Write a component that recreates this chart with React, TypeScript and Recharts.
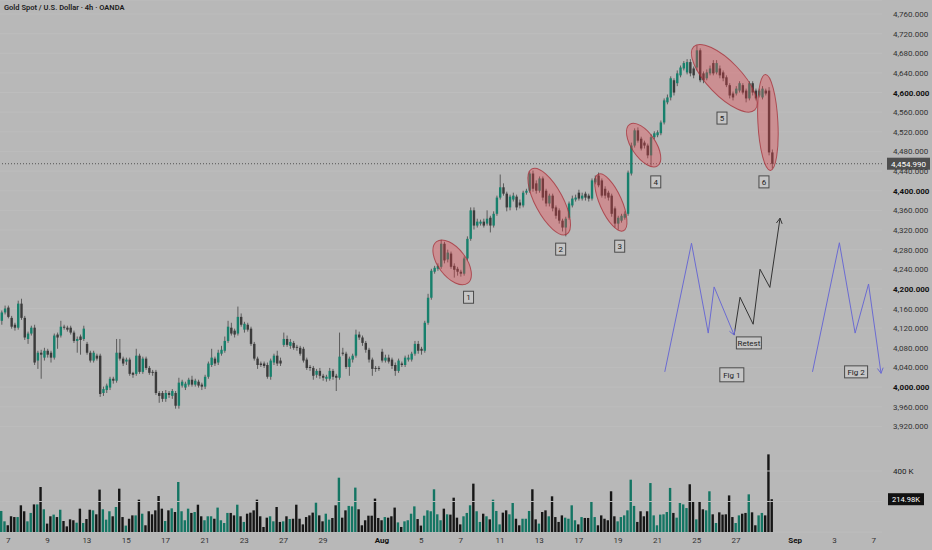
import React from 'react';
import { ComposedChart, Bar, XAxis, YAxis, ReferenceLine, ReferenceDot, Cell, CartesianGrid } from 'recharts';

// OHLC per 4h candle: [open, high, low, close]
const candles: number[][] = [
  [4135,4156,4127,4152],[4152,4166,4148,4160],[4162,4166,4140,4143],[4141,4145,4119,4123],[4127,4131,4115,4121],
  [4121,4176,4117,4170],[4170,4180,4137,4141],[4141,4145,4096,4101],[4098,4113,4088,4109],[4109,4125,4105,4121],
  [4121,4127,4045,4050],[4054,4074,4037,4070],[4070,4076,4017,4066],[4060,4080,4054,4074],[4074,4078,4060,4066],
  [4070,4074,4050,4060],[4060,4109,4056,4105],[4107,4111,4078,4101],[4105,4135,4101,4123],[4123,4127,4117,4121],
  [4121,4125,4113,4117],[4121,4125,4107,4111],[4111,4115,4090,4094],[4094,4103,4070,4098],[4103,4107,4066,4096],
  [4098,4125,4094,4119],[4088,4092,4066,4070],[4070,4074,4050,4054],[4054,4074,4050,4070],[4064,4068,4054,4058],
  [4064,4068,3980,3986],[3988,4001,3982,3996],[3994,4007,3988,4003],[3999,4021,3994,4017],[4017,4021,4007,4013],
  [4013,4098,4009,4070],[4070,4098,4054,4058],[4058,4062,4043,4048],[4052,4060,4045,4056],[4056,4060,4023,4027],
  [4029,4031,4019,4025],[4027,4078,4023,4064],[4064,4068,4027,4031],[4031,4062,4027,4058],[4058,4062,4035,4039],
  [4039,4043,4025,4029],[4031,4035,4023,4029],[4031,4035,3984,3988],[3988,3992,3968,3982],[3988,3992,3970,3976],
  [3976,3994,3970,3988],[3988,3992,3978,3984],[3982,3996,3976,3992],[3988,3992,3956,3962],[3962,4019,3956,4009],
  [4003,4015,3999,4011],[3999,4011,3994,4007],[4005,4019,4001,4015],[4015,4023,4001,4005],[4005,4017,4001,4013],
  [4011,4015,3999,4003],[4005,4009,3994,4001],[4001,4025,3996,4021],[4021,4052,4017,4048],[4045,4078,4041,4060],
  [4058,4062,4043,4048],[4050,4076,4045,4070],[4068,4084,4064,4076],[4074,4103,4070,4094],[4094,4135,4090,4123],
  [4121,4131,4105,4109],[4115,4119,4101,4107],[4109,4164,4105,4143],[4143,4150,4123,4127],[4117,4133,4111,4129],
  [4127,4131,4113,4117],[4119,4123,4084,4088],[4088,4092,4054,4058],[4058,4062,4037,4045],[4048,4052,4041,4045],
  [4048,4052,4039,4043],[4045,4050,4017,4021],[4021,4058,4015,4054],[4050,4068,4045,4064],[4064,4074,4043,4048],
  [4054,4060,4043,4048],[4086,4111,4082,4098],[4098,4105,4082,4086],[4084,4098,4078,4092],[4090,4094,4076,4080],
  [4082,4086,4074,4080],[4080,4084,4064,4068],[4078,4082,4050,4054],[4056,4060,4035,4039],[4041,4045,4033,4039],
  [4039,4043,4015,4023],[4025,4037,4019,4033],[4033,4039,4017,4023],[4023,4027,4013,4019],[4017,4025,4011,4021],
  [4017,4039,4013,4033],[4033,4037,4015,4021],[4023,4027,3992,4019],[4019,4111,4015,4062],[4070,4080,4064,4068],
  [4068,4072,4037,4041],[4041,4062,4023,4058],[4056,4068,4050,4064],[4064,4117,4060,4107],[4107,4113,4096,4101],
  [4101,4105,4084,4090],[4090,4094,4070,4076],[4076,4080,4050,4056],[4056,4060,4023,4037],[4039,4043,4031,4037],
  [4039,4043,4033,4037],[4072,4078,4050,4054],[4054,4066,4050,4060],[4060,4066,4048,4052],[4056,4060,4037,4043],
  [4045,4050,4023,4033],[4033,4058,4029,4054],[4048,4052,4041,4045],[4045,4064,4041,4060],[4056,4066,4052,4060],
  [4056,4072,4052,4068],[4068,4094,4064,4088],[4088,4094,4068,4074],[4078,4082,4066,4074],[4074,4135,4070,4131],
  [4131,4190,4127,4182],[4182,4241,4178,4237],[4235,4247,4231,4243],[4241,4252,4237,4247],[4245,4300,4241,4292],
  [4292,4296,4252,4258],[4260,4280,4254,4274],[4272,4276,4241,4245],[4247,4252,4223,4239],[4241,4245,4227,4235],
  [4235,4239,4225,4231],[4231,4266,4227,4262],[4262,4307,4258,4302],[4302,4366,4298,4360],[4360,4366,4321,4329],
  [4329,4343,4325,4337],[4333,4341,4329,4337],[4337,4343,4325,4329],[4333,4360,4329,4343],[4345,4349,4315,4329],
  [4329,4358,4325,4353],[4353,4390,4349,4386],[4386,4433,4382,4407],[4407,4415,4390,4394],[4394,4398,4358,4366],
  [4366,4392,4360,4388],[4382,4396,4378,4390],[4388,4392,4360,4366],[4376,4382,4364,4370],[4370,4400,4366,4396],
  [4396,4404,4392,4400],[4400,4439,4396,4435],[4435,4441,4398,4404],[4415,4421,4394,4400],[4400,4429,4396,4425],
  [4425,4429,4380,4386],[4400,4404,4368,4374],[4374,4394,4368,4390],[4390,4394,4358,4364],[4366,4370,4343,4349],
  [4360,4364,4333,4339],[4339,4343,4317,4325],[4325,4347,4307,4343],[4345,4378,4341,4374],[4370,4390,4366,4384],
  [4382,4392,4378,4386],[4396,4402,4380,4384],[4384,4396,4380,4390],[4394,4398,4380,4386],[4390,4394,4378,4384],
  [4384,4425,4380,4421],[4417,4431,4413,4425],[4431,4437,4407,4411],[4421,4425,4386,4390],[4404,4409,4384,4390],
  [4396,4400,4380,4386],[4390,4394,4347,4353],[4364,4368,4325,4333],[4333,4349,4321,4345],[4339,4353,4335,4349],
  [4345,4358,4341,4353],[4353,4441,4349,4437],[4435,4498,4431,4492],[4492,4527,4488,4523],[4523,4529,4498,4502],
  [4506,4510,4482,4486],[4498,4502,4486,4492],[4492,4496,4466,4472],[4472,4515,4451,4509],[4509,4521,4505,4517],
  [4513,4523,4509,4519],[4517,4543,4513,4539],[4539,4588,4535,4584],[4580,4596,4576,4590],[4590,4633,4584,4629],
  [4625,4629,4594,4600],[4619,4645,4613,4639],[4635,4655,4631,4651],[4649,4664,4645,4660],[4641,4668,4637,4662],
  [4662,4668,4633,4639],[4649,4653,4629,4635],[4651,4696,4645,4686],[4686,4690,4621,4625],[4639,4643,4619,4625],
  [4629,4647,4625,4641],[4639,4655,4635,4649],[4660,4666,4635,4639],[4641,4666,4637,4660],[4649,4655,4629,4635],
  [4641,4645,4623,4629],[4631,4635,4611,4615],[4615,4619,4588,4594],[4598,4602,4584,4590],[4598,4613,4594,4608],
  [4604,4623,4600,4619],[4615,4619,4596,4600],[4604,4608,4580,4588],[4588,4623,4584,4619],[4619,4623,4594,4600],
  [4604,4608,4584,4588],[4594,4608,4590,4604],[4590,4613,4586,4608],[4604,4608,4594,4598],[4604,4611,4472,4478],
  [4478,4484,4445,4454.99],
];

// volume per candle, in thousands
const volumesK: number[] = [
  138,70,44,103,98,98,175,136,70,125,
  181,181,295,149,55,103,114,98,146,72,
  37,83,77,61,153,59,85,146,142,116,
  278,149,81,136,103,164,284,98,42,87,
  109,109,212,120,44,136,116,142,236,153,
  72,142,155,131,328,136,77,153,125,131,
  179,103,77,103,103,87,160,77,59,125,
  125,109,179,103,66,120,127,142,212,103,
  33,94,103,70,164,66,70,103,85,87,
  179,87,50,98,109,127,192,109,70,120,
  81,92,175,356,94,142,171,168,291,149,
  44,77,107,107,219,92,77,98,94,103,
  160,63,33,70,77,120,168,85,42,107,
  142,136,280,116,77,153,116,114,225,94,
  50,103,125,
  175,317,136,66,120,103,83,212,138,50,
  127,142,116,190,87,44,87,87,138,280,
  83,55,131,142,103,234,98,66,109,94,
  87,175,77,50,98,92,92,201,98,44,
  109,87,77,267,103,70,98,109,142,343,
  171,66,136,103,136,321,109,44,114,116,
  131,289,125,94,190,181,157,313,201,83,
  203,149,142,267,116,59,129,114,116,240,
  98,59,109,120,125,247,129,44,109,125,
  109,509,214.98,
];

const futureSlots = 33;
const dayTickIdx = [2, 14, 26, 38, 50, 62, 74, 86, 98, 116, 128, 140, 152, 164, 176, 188, 200, 212, 224, 242, 254, 266];
const dayLabels = ['7', '9', '13', '15', '17', '21', '23', '27', '29', 'Aug', '5', '7', '11', '13', '17', '19', '21', '25', '27', 'Sep', '3', '7'];
const priceTicks = [3920, 3960, 4000, 4040, 4080, 4120, 4160, 4200, 4240, 4280, 4320, 4360, 4400, 4440, 4480, 4520, 4560, 4600, 4640, 4680, 4720, 4760];
const lastPrice = 4454.99;
const lastVolumeK = 214.98;
const volumeGridK = [200, 400];

// annotations, in (candle index, price)
const zoneCenters = [[137.4, 4254], [167.0, 4378], [185.8, 4376], [195.8, 4493], [220.4, 4629], [233.7, 4539]];
const zoneTags = [[142.4, 4183], [170.5, 4281], [188.5, 4287], [199.5, 4418], [219.7, 4548], [232.5, 4418]];
const zoneNames = ['1', '2', '3', '4', '5', '6'];
const fig1Path = [[202.25, 4031], [210.4, 4293], [215.5, 4110], [217.3, 4204], [223.4, 4106]];
const retestPath = [[223.4, 4106], [225.2, 4183], [229.2, 4128], [231.3, 4240], [234.3, 4203], [237.4, 4344]];
const fig2Path = [[247.3, 4031], [255.5, 4294], [260.3, 4110], [264.4, 4210], [268.2, 4028]];
const notes: [string, number, number][] = [['Retest', 227.9, 4090], ['Fig 1', 222.7, 4025], ['Fig 2', 260.6, 4031]];

// styles
const BG = '#b8b8b8';
const UP = '#17806c';
const DOWN = '#3b3b3b';
const VOL_UP = '#147563';
const VOL_DOWN = '#161616';
const WICK = '#505050';
const PURPLE = '#6b6bd2';
const FONT = 'Roboto, "Liberation Sans", sans-serif';
const zoneGeom = [[26, 14, 53], [37, 14, 62], [31, 11, 66], [25, 12, 56], [44, 17, 46], [48, 10, 87]];
const noteSize: Record<string, [number, number]> = { 'Retest': [25, 12], 'Fig 1': [24, 14], 'Fig 2': [23, 12] };

const rows = Array.from({ length: candles.length + futureSlots }, (_, i) => {
  const c = candles[i];
  if (!c) return { i };
  return { i, o: c[0], h: c[1], l: c[2], c: c[3], range: [c[2], c[1]], vol: volumesK[i] };
});

const fmtPrice = (v: number) => v.toLocaleString('en-US', { minimumFractionDigits: 3, maximumFractionDigits: 3 });

const CandleShape = (props: any) => {
  const { x, y, width, height, payload } = props;
  if (!payload || payload.o == null) return null;
  const top = Math.min(y, y + height);
  const bot = Math.max(y, y + height);
  const span = payload.h - payload.l;
  const py = (v: number) => (span > 0 ? top + ((payload.h - v) / span) * (bot - top) : top);
  const cx = x + width / 2;
  const yo = py(payload.o);
  const yc = py(payload.c);
  const up = payload.c >= payload.o;
  const bt = Math.min(yo, yc);
  const bh = Math.max(1, Math.abs(yc - yo));
  return (
    <g>
      <line x1={cx} x2={cx} y1={top} y2={bot} stroke={WICK} strokeWidth={0.9} />
      <rect x={cx - 1.2} y={bt} width={2.4} height={bh} fill={up ? UP : DOWN} />
    </g>
  );
};

const PriceTick = (props: any) => {
  const { x, y, payload } = props;
  const v = payload.value;
  const bold = v % 200 === 0;
  return (
    <text x={x + 3} y={y + 3} fontSize={8} fontFamily={FONT} fill={bold ? '#111' : '#333'} fontWeight={bold ? 700 : 400}>
      {fmtPrice(v)}
    </text>
  );
};

const DayTick = (props: any) => {
  const { x, y, payload } = props;
  const k = dayTickIdx.indexOf(payload.value);
  const lab = k >= 0 ? dayLabels[k] : '';
  const bold = lab === 'Aug' || lab === 'Sep';
  return (
    <text x={x} y={y + 3} textAnchor="middle" fontSize={8} fontFamily={FONT} fill={bold ? '#111' : '#333'} fontWeight={bold ? 700 : 400}>
      {lab}
    </text>
  );
};

const Zone = (idx: number) => (props: any) => {
  const { cx, cy } = props;
  const [rx, ry, ang] = zoneGeom[idx];
  return (
    <ellipse cx={cx} cy={cy} rx={rx} ry={ry} transform={`rotate(${ang} ${cx} ${cy})`}
      fill="rgba(242,60,70,0.33)" stroke="rgba(165,45,55,0.75)" strokeWidth={1} />
  );
};

const TagBox = (label: string, w: number, h: number) => (props: any) => {
  const { cx, cy } = props;
  return (
    <g>
      <rect x={cx - w / 2} y={cy - h / 2} width={w} height={h} fill="#c6c6c6" stroke="#4a4a4a" strokeWidth={1} />
      <text x={cx} y={cy + 3} textAnchor="middle" fontSize={8} fontFamily={FONT} fill="#222">{label}</text>
    </g>
  );
};

const Arrow = (angleDeg: number, color: string) => (props: any) => {
  const { cx, cy } = props;
  const back = (angleDeg * Math.PI) / 180 + Math.PI;
  const l = 6;
  const a1 = back + 0.5;
  const a2 = back - 0.5;
  return (
    <path d={`M${cx + l * Math.cos(a1)},${cy + l * Math.sin(a1)} L${cx},${cy} L${cx + l * Math.cos(a2)},${cy + l * Math.sin(a2)}`}
      stroke={color} strokeWidth={1} fill="none" />
  );
};

const segments = (path: number[][], color: string, key: string) =>
  path.slice(1).map((p, k) => (
    <ReferenceLine key={`${key}${k}`} xAxisId="n" yAxisId="price" stroke={color} strokeWidth={1}
      segment={[{ x: path[k][0], y: path[k][1] }, { x: p[0], y: p[1] }]} ifOverflow="visible" />
  ));

export default function App() {
  const last = (p: number[][]) => p[p.length - 1];
  return (
    <div style={{ position: 'absolute', left: 0, top: 0, width: 932, height: 550, background: BG, overflow: 'hidden' }}>
      <div style={{ position: 'absolute', left: 4, top: 3, fontFamily: FONT, fontSize: 7.5, fontWeight: 600, color: '#1c1c1c', zIndex: 2, whiteSpace: 'nowrap' }}>
        Gold Spot / U.S. Dollar · 4h · OANDA
      </div>
      <ComposedChart width={932} height={550} data={rows} margin={{ top: 0, right: 0, bottom: 0, left: 0 }} style={{ background: BG }}>
        <XAxis xAxisId="main" dataKey="i" type="category" ticks={dayTickIdx} interval={0} tick={<DayTick />}
          tickLine={false} axisLine={false} height={18} />
        <XAxis xAxisId="v" dataKey="i" type="category" hide />
        <XAxis xAxisId="n" dataKey="i" type="number" domain={[-0.5, 268.5]} allowDataOverflow hide />
        <YAxis yAxisId="price" orientation="right" type="number" domain={[3704.8, 4788.5]} ticks={priceTicks}
          allowDataOverflow width={50} tickLine={false} axisLine={false} tick={<PriceTick />} interval={0} />
        <YAxis yAxisId="vol" type="number" domain={[0, 3488]} allowDataOverflow hide />
        <CartesianGrid xAxisId="main" yAxisId="price" vertical={false} stroke="#bdbdbd" />
        {volumeGridK.map((v) => (
          <ReferenceLine key={`vg${v}`} xAxisId="main" yAxisId="vol" y={v} stroke="#bdbdbd" />
        ))}
        <Bar xAxisId="v" yAxisId="vol" dataKey="vol" barSize={2.4} isAnimationActive={false}>
          {rows.map((r: any) => (
            <Cell key={`vc${r.i}`} fill={r.c != null && r.c >= r.o ? VOL_UP : VOL_DOWN} />
          ))}
        </Bar>
        <Bar xAxisId="main" yAxisId="price" dataKey="range" shape={<CandleShape />} isAnimationActive={false} />
        <ReferenceLine xAxisId="main" yAxisId="price" y={lastPrice} stroke="#555" strokeDasharray="1 2"
          label={{
            content: (p: any) => {
              const vb = p.viewBox || {};
              const bx = vb.x + vb.width + 5;
              return (
                <g>
                  <rect x={bx} y={vb.y - 6} width={43} height={12} fill="#4e4e4e" />
                  <text x={bx + 21.5} y={vb.y + 3} textAnchor="middle" fontSize={8} fontFamily={FONT} fill="#fff">{fmtPrice(lastPrice)}</text>
                </g>
              );
            },
          }} />
        <ReferenceLine xAxisId="main" yAxisId="vol" y={400} stroke="none"
          label={{
            content: (p: any) => {
              const vb = p.viewBox || {};
              return <text x={vb.x + vb.width + 11} y={vb.y + 3} fontSize={8} fontFamily={FONT} fill="#222">400 K</text>;
            },
          }} />
        <ReferenceLine xAxisId="main" yAxisId="vol" y={lastVolumeK} stroke="none"
          label={{
            content: (p: any) => {
              const vb = p.viewBox || {};
              const bx = vb.x + vb.width + 6;
              return (
                <g>
                  <rect x={bx} y={vb.y - 6} width={36} height={12} fill="#111" />
                  <text x={bx + 18} y={vb.y + 3} textAnchor="middle" fontSize={7.5} fontFamily={FONT} fill="#fff">{`${lastVolumeK}K`}</text>
                </g>
              );
            },
          }} />
        {zoneCenters.map((z, k) => (
          <ReferenceDot key={`z${k}`} xAxisId="n" yAxisId="price" x={z[0]} y={z[1]} r={1} shape={Zone(k)} ifOverflow="visible" />
        ))}
        {zoneTags.map((t, k) => (
          <ReferenceDot key={`t${k}`} xAxisId="n" yAxisId="price" x={t[0]} y={t[1]} r={1} shape={TagBox(zoneNames[k], 10, 12)} ifOverflow="visible" />
        ))}
        {segments(fig1Path, PURPLE, 'f1')}
        {segments(retestPath, '#333', 'rt')}
        {segments(fig2Path, PURPLE, 'f2')}
        <ReferenceDot xAxisId="n" yAxisId="price" x={last(fig1Path)[0]} y={last(fig1Path)[1]} r={1} shape={Arrow(67.5, PURPLE)} ifOverflow="visible" />
        <ReferenceDot xAxisId="n" yAxisId="price" x={last(retestPath)[0]} y={last(retestPath)[1]} r={1} shape={Arrow(-81.8, '#333')} ifOverflow="visible" />
        <ReferenceDot xAxisId="n" yAxisId="price" x={last(fig2Path)[0]} y={last(fig2Path)[1]} r={1} shape={Arrow(82, PURPLE)} ifOverflow="visible" />
        {notes.map(([txt, xi, pr]) => (
          <ReferenceDot key={`n${txt}`} xAxisId="n" yAxisId="price" x={xi} y={pr} r={1}
            shape={TagBox(txt, noteSize[txt][0], noteSize[txt][1])} ifOverflow="visible" />
        ))}
      </ComposedChart>
    </div>
  );
}
